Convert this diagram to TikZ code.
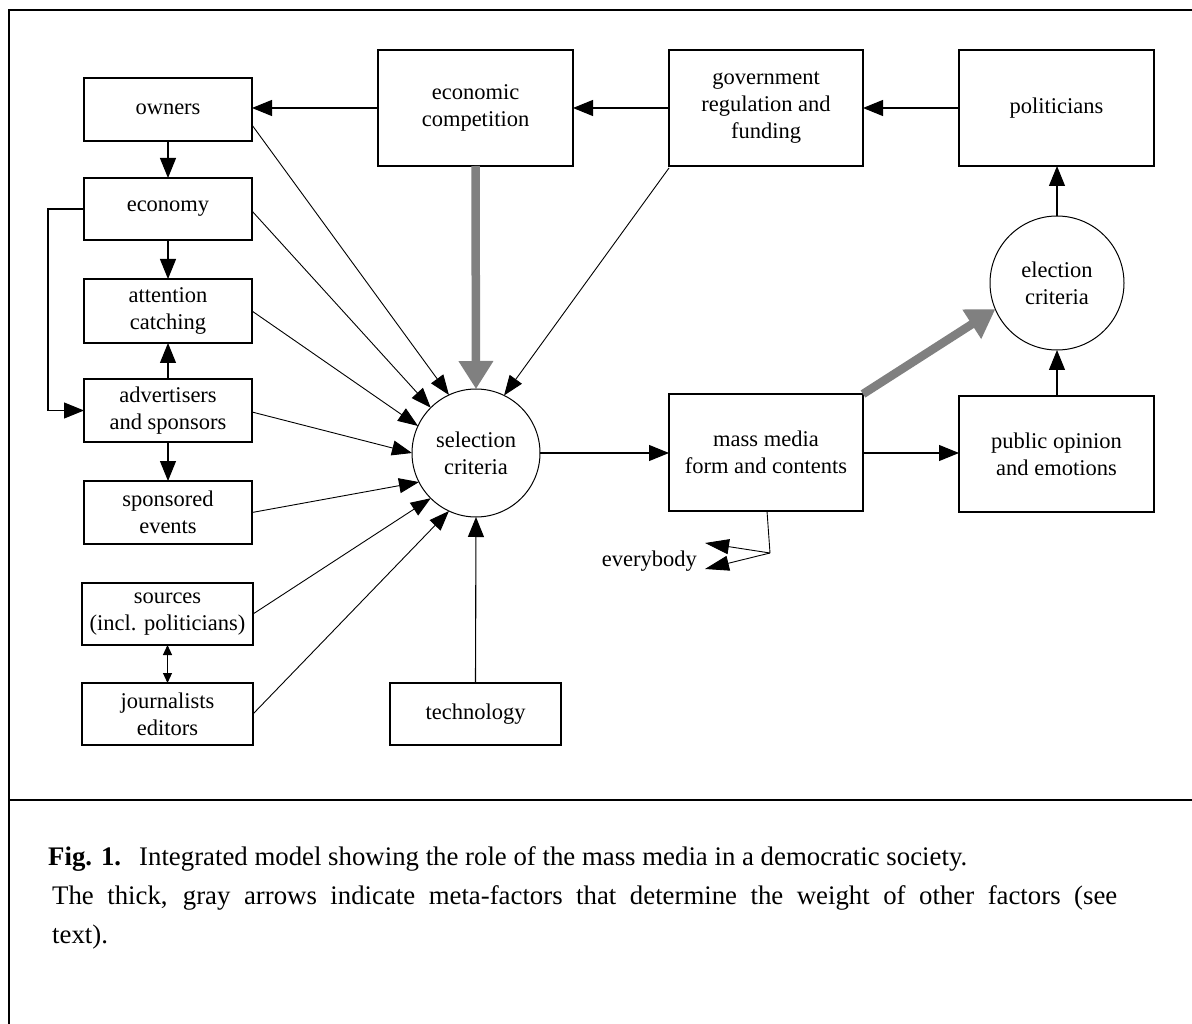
\documentclass[tikz,border=0pt]{standalone}
\usepackage{fontspec}
\setmainfont{Liberation Serif}
\usetikzlibrary{arrows.meta,calc}
\definecolor{metagray}{RGB}{128,128,128}
\newcommand{\dgfont}{\fontsize{22.5}{27}\selectfont}
\begin{document}
\begin{tikzpicture}[x=1pt,y=-1pt,
  box/.style={draw,line width=1.2pt,inner sep=0pt,outer sep=0pt,align=center,font=\dgfont},
  circ/.style={draw,circle,line width=1pt,inner sep=0pt,outer sep=0pt,align=center,font=\dgfont},
  lbl/.style={inner sep=0pt,font=\dgfont},
  arr/.style={line width=1.1pt,-{Triangle[length=20pt,width=16pt]}},
  fan/.style={line width=0.9pt,-{Triangle[length=20pt,width=15pt]}},
  small/.style={line width=1.1pt,{Triangle[length=10pt,width=9pt]}-{Triangle[length=10pt,width=9pt]}},
  evarr/.style={line width=0.9pt,-{Triangle[length=24pt,width=15pt]}},
  meta/.style={line width=8.5pt,draw=metagray,-{Triangle[length=28pt,width=33pt]}},
  captext/.style={anchor=base west,inner sep=0pt,font=\fontsize{26.8}{39}\selectfont},
]
\useasboundingbox (0,0) rectangle (1192,1024);
\fill[white] (0,0) rectangle (1192,1024);
% frame
\draw[line width=2pt] (1192,10) -- (9,10) -- (9,1024);
\draw[line width=2pt] (9,800) -- (1192,800);

% left column
\node[box,minimum width=168pt,minimum height=63pt] (own) at (168,109.5) {\raisebox{-2pt}{owners}};
\node[box,minimum width=168pt,minimum height=62pt] (eco) at (168,209) {\raisebox{-2pt}{economy}};
\node[box,minimum width=168pt,minimum height=64pt] (att) at (168,311) {attention\\catching};
\node[box,minimum width=168pt,minimum height=63pt] (adv) at (168,410.5) {advertisers\\and sponsors};
\node[box,minimum width=168pt,minimum height=63pt] (spo) at (168,512.5) {sponsored\\events};
\node[box,minimum width=171pt,minimum height=62pt] (src) at (167.5,614) {sources\\(incl. politicians)};
\node[box,minimum width=171pt,minimum height=62pt] (jou) at (167.5,714) {journalists\\editors};

% top row
\node[box,minimum width=195pt,minimum height=116pt] (ecc) at (475.5,108) {economic\\competition};
\node[box,minimum width=194pt,minimum height=116pt] (gov) at (766,108) {government\\regulation and\\funding};
\node[box,minimum width=195pt,minimum height=116pt] (pol) at (1056.5,108) {\raisebox{-2pt}{politicians}};

% middle
\node[circ,minimum size=128pt] (sel) at (476,453) {selection\\criteria};
\node[box,minimum width=194pt,minimum height=117pt] (mm) at (766,452.5) {mass media\\form and contents};
\node[box,minimum width=195pt,minimum height=116pt] (pub) at (1056.5,454) {public opinion\\and emotions};
\node[circ,minimum size=134pt] (ele) at (1057,283) {election\\criteria};
\node[box,minimum width=171pt,minimum height=62pt] (tec) at (475.5,714) {technology};

\node[lbl,anchor=east] (evb) at (697,561) {everybody};
\coordinate (ev) at (770,553);
\coordinate (evt1) at (705,543);
\coordinate (evt2) at (705,569);

% top row arrows
\draw[arr] (ecc.west) -- (ecc.west -| own.east);
\draw[arr] (gov.west) -- (ecc.east);
\draw[arr] (pol.west) -- (gov.east);

% left column arrows
\draw[arr] (own.south) -- (eco.north);
\draw[arr] (eco.south) -- (att.north);
\draw[arr] (adv.north) -- (att.south);
\draw[arr] (adv.south) -- (spo.north);
\draw[small] (src.south) -- (jou.north);
\draw[arr] (eco.west) -- ++(-36,0) |- (adv.west);

% fan into selection criteria
\draw[fan] ($(own.east)+(0,15.5)$) -- (sel.115);
\draw[fan] ($(eco.east)+(0,2)$) -- (sel.135);
\draw[fan] (att.east) -- (sel.155);
\draw[fan] ($(adv.east)+(0,1.5)$) -- (sel.180);
\draw[fan] (spo.east) -- (sel.207);
\draw[fan] (src.east) -- (sel.225);
\draw[fan] (jou.east) -- (sel.245);
\draw[fan] ($(gov.south west)+(0,2)$) -- (sel.64);
\draw[arr] (tec.north) -- (sel.south);

% right side
\draw[arr] (sel.east) -- (sel.east -| mm.west);
\draw[arr] (mm.east |- sel.east) -- (pub.west |- sel.east);
\draw[arr] (pub.north -| ele.south) -- (ele.south);
\draw[arr] (ele.north) -- (ele.north |- pol.south);

% everybody
\draw[line width=0.9pt] ($(mm.south)+(1,0)$) -- (ev);
\draw[evarr] (ev) -- (evt1);
\draw[evarr] (ev) -- (evt2);

% meta-factor arrows
\draw[meta] (ecc.south) -- (sel.north);
\draw[meta] (mm.north east) -- (ele.203);

% caption
\node[captext] (c1a) at (48,865) {\textbf{Fig. 1.}};
\node[captext] (c1b) at (139,865) {Integrated model showing the role of the mass media in a democratic society.};
\node[captext] (c2) at (52,904) {\makebox[1065pt][s]{The thick, gray arrows indicate meta-factors that determine the weight of other factors (see}};
\node[captext] (c3) at (52,943) {text).};
\end{tikzpicture}
\end{document}
